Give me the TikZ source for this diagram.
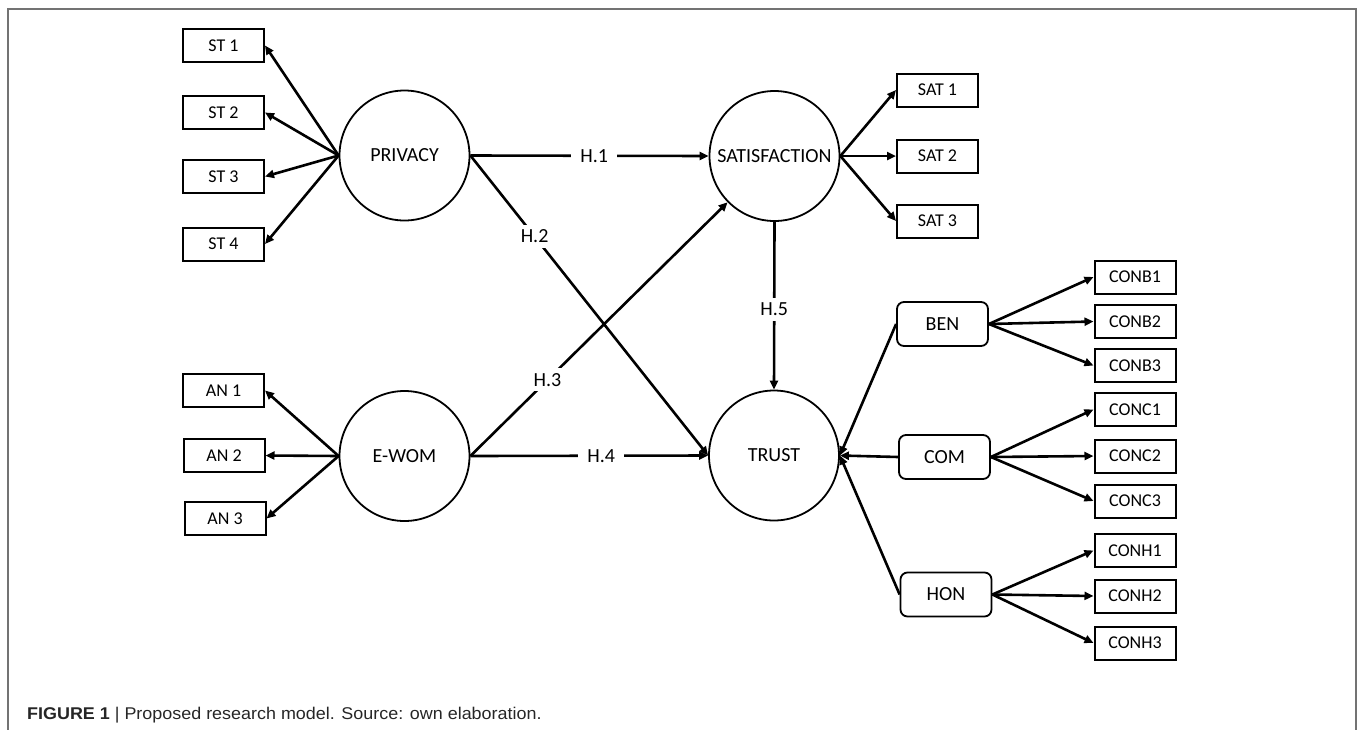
\documentclass[tikz,border=0pt]{standalone}
\usepackage{fontspec}
\setmainfont{Carlito}
\newfontfamily\capfont{Liberation Sans}
\usetikzlibrary{arrows.meta}
\begin{document}
\begin{tikzpicture}[x=1pt,y=-1pt,
  ind/.style={draw,line width=2pt,minimum width=81pt,minimum height=33pt,inner sep=0pt,font=\fontsize{18}{18}\selectfont},
  lat/.style={draw,circle,line width=1.8pt,minimum size=130pt,inner sep=0pt,font=\fontsize{20}{20}\selectfont},
  dim/.style={draw,rounded corners=7pt,line width=1.8pt,minimum width=91pt,minimum height=44pt,inner sep=0pt,font=\fontsize{20}{20}\selectfont},
  arr/.style={line width=2.6pt,-{Triangle[length=9pt,width=8pt]}},
  hyp/.style={fill=white,inner xsep=9pt,inner ysep=5pt,font=\fontsize{20}{20}\selectfont}]
\useasboundingbox (0,0) rectangle (1358,729);
\draw[line width=2pt,black!55] (8,745) -- (8,9) -- (1355.5,9) -- (1355.5,745);
% latent variables
\node[lat] (priv) at (404.5,155.5) {PRIVACY};
\node[lat] (sat) at (774.5,156) {SATISFACTION};
\node[lat] (ewom) at (404.5,456) {E-WOM};
\node[lat] (trust) at (774,455.5) {TRUST};
% ST boxes
\node[ind] (st1) at (223.5,45.5) {ST 1};
\node[ind] (st2) at (223.5,112.5) {ST 2};
\node[ind] (st3) at (223.5,176.5) {ST 3};
\node[ind] (st4) at (223.5,244) {ST 4};
% AN boxes
\node[ind] (an1) at (223.5,390.5) {AN 1};
\node[ind] (an2) at (224,455.5) {AN 2};
\node[ind] (an3) at (225,518.5) {AN 3};
% SAT boxes
\node[ind] (sat1) at (937.5,90) {SAT 1};
\node[ind] (sat2) at (937.5,156) {SAT 2};
\node[ind] (sat3) at (937.5,221) {SAT 3};
% dimensions
\node[dim] (ben) at (942.5,324) {BEN};
\node[dim] (com) at (944.5,457) {COM};
\node[dim] (hon) at (946,594.5) {HON};
% CON boxes
\node[ind] (b1) at (1135,277) {CONB1};
\node[ind] (b2) at (1135,321.5) {CONB2};
\node[ind] (b3) at (1135,365.5) {CONB3};
\node[ind] (c1) at (1135,409.5) {CONC1};
\node[ind] (c2) at (1135,456) {CONC2};
\node[ind] (c3) at (1135,501) {CONC3};
\node[ind] (h1) at (1135,550.5) {CONH1};
\node[ind] (h2) at (1135,596) {CONH2};
\node[ind] (h3) at (1135,643) {CONH3};
% loadings
\foreach \t in {st1,st2,st3,st4} \draw[arr] (priv.west) -- (\t.east);
\foreach \t in {an1,an2,an3} \draw[arr] (ewom.west) -- (\t.east);
\foreach \t in {sat1,sat2,sat3} \draw[arr] (sat.east) -- (\t.west);
\foreach \t in {b1,b2,b3} \draw[arr] (ben.east) -- (\t.west);
\foreach \t in {c1,c2,c3} \draw[arr] (com.east) -- (\t.west);
\foreach \t in {h1,h2,h3} \draw[arr] (hon.east) -- (\t.west);
\foreach \t in {ben,com,hon} \draw[arr] (\t.west) -- (trust.east);
% hypotheses
\draw[arr] (priv.east) -- node[hyp,pos=0.52] {H.1} (sat.west);
\draw[arr] (priv.east) -- node[hyp,pos=0.27] {H.2} (trust.west);
\draw[arr] (ewom.east) -- node[hyp,pos=0.30] {H.3} (sat);
\draw[arr] (ewom.east) -- node[hyp,pos=0.55] {H.4} (trust.west);
\draw[arr] (sat.south) -- node[hyp,pos=0.52] {H.5} (trust.north);
% caption
\node[anchor=base west,inner sep=0pt,text=black!85,font=\capfont\fontsize{17}{17}\selectfont] (cap) at (27,719) {\scalebox{1.055}[1]{\textbf{FIGURE 1} | Proposed research model. Source: own elaboration.}};
\end{tikzpicture}
\end{document}
